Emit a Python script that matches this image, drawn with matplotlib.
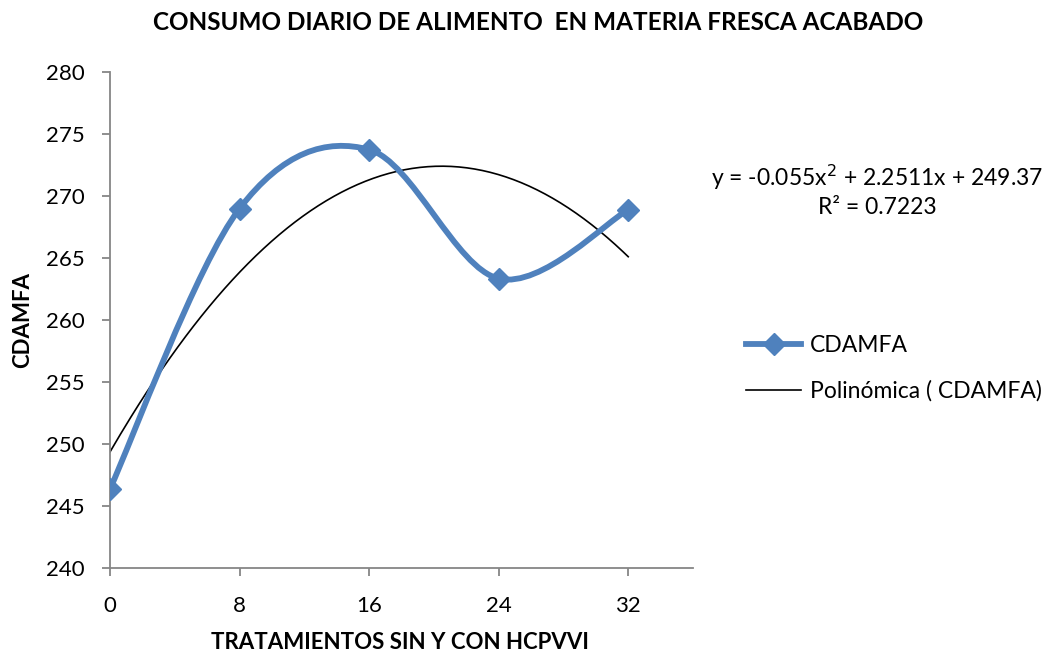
import numpy as np
import matplotlib
matplotlib.use("Agg")
import matplotlib.pyplot as plt
from matplotlib.path import Path
from matplotlib.patches import PathPatch
from matplotlib.lines import Line2D

plt.rcParams['font.family'] = ['Lato', 'DejaVu Sans']

# Data
tratamientos = [0, 8, 16, 24, 32]
cdamfa = [246.4, 269.0, 273.75, 263.35, 268.9]
x_ticks = [0, 8, 16, 24, 32]
y_ticks = [240, 245, 250, 255, 260, 265, 270, 275, 280]

blue = '#4F81BD'

fig = plt.figure(figsize=(10.54, 6.56), dpi=100)
ax = fig.add_axes([0.1044, 0.134, 0.5531, 0.756])

# smoothed line (Catmull-Rom style bezier through the points)
x = np.array(tratamientos, dtype=float)
y = np.array(cdamfa, dtype=float)
pts = np.column_stack([x, y])
n = len(pts)
verts = [pts[0]]
codes = [Path.MOVETO]
for i in range(n - 1):
    p_prev = pts[i - 1] if i > 0 else pts[i]
    p_next = pts[i + 2] if i + 2 < n else pts[i + 1]
    c1 = pts[i] + (pts[i + 1] - p_prev) / 6.0
    c2 = pts[i + 1] - (p_next - pts[i]) / 6.0
    verts += [c1, c2, pts[i + 1]]
    codes += [Path.CURVE4] * 3
patch = PathPatch(Path(verts, codes), facecolor='none', edgecolor=blue,
                  linewidth=4.2, capstyle='round', joinstyle='round', zorder=3)
ax.add_patch(patch)
ax.plot(x, y, linestyle='none', marker='D', markersize=11, color=blue, zorder=4)

# polynomial trendline (order 2)
coef = np.polyfit(x, y, 2)
xt = np.linspace(x.min(), x.max(), 200)
ax.plot(xt, np.polyval(coef, xt), color='black', linewidth=1.2, zorder=2)

ax.set_xlim(0, 36)
ax.set_ylim(240, 280)
ax.set_xticks(x_ticks)
ax.set_yticks(y_ticks)
ax.tick_params(axis='both', labelsize=16, length=6, width=1.3, color='#868686',
               direction='out')
ax.tick_params(axis='x', pad=14)
ax.tick_params(axis='y', pad=12)
for s in ['top', 'right']:
    ax.spines[s].set_visible(False)
for s in ['left', 'bottom']:
    ax.spines[s].set_color('#868686')
    ax.spines[s].set_linewidth(1.3)

fig.text(0.3795, 0.02, 'TRATAMIENTOS SIN Y CON HCPVVI', ha='center', va='center',
         fontsize=16, fontweight='bold')
fig.text(0.021, 0.512, 'CDAMFA', ha='center', va='center', rotation=90,
         fontsize=16, fontweight='bold')
fig.text(0.511, 0.965, 'CONSUMO DIARIO DE ALIMENTO  EN MATERIA FRESCA ACABADO',
         ha='center', va='center', fontsize=17.5, fontweight='bold')

fig.text(0.832, 0.73, 'y = -0.055x$^2$ + 2.2511x + 249.37', ha='center', va='center', fontsize=16.5)
fig.text(0.832, 0.683, 'R² = 0.7223', ha='center', va='center', fontsize=16.5)

handles = [Line2D([], [], color=blue, linewidth=4.2, marker='D', markersize=11),
           Line2D([], [], color='black', linewidth=1.2)]
fig.legend(handles, ['CDAMFA', 'Polinómica ( CDAMFA)'], loc='center left',
           bbox_to_anchor=(0.697, 0.438), frameon=False, fontsize=16.5,
           handlelength=2.4, handletextpad=0.4, labelspacing=1.05, borderpad=0)

fig.savefig('out.png', dpi=100)
